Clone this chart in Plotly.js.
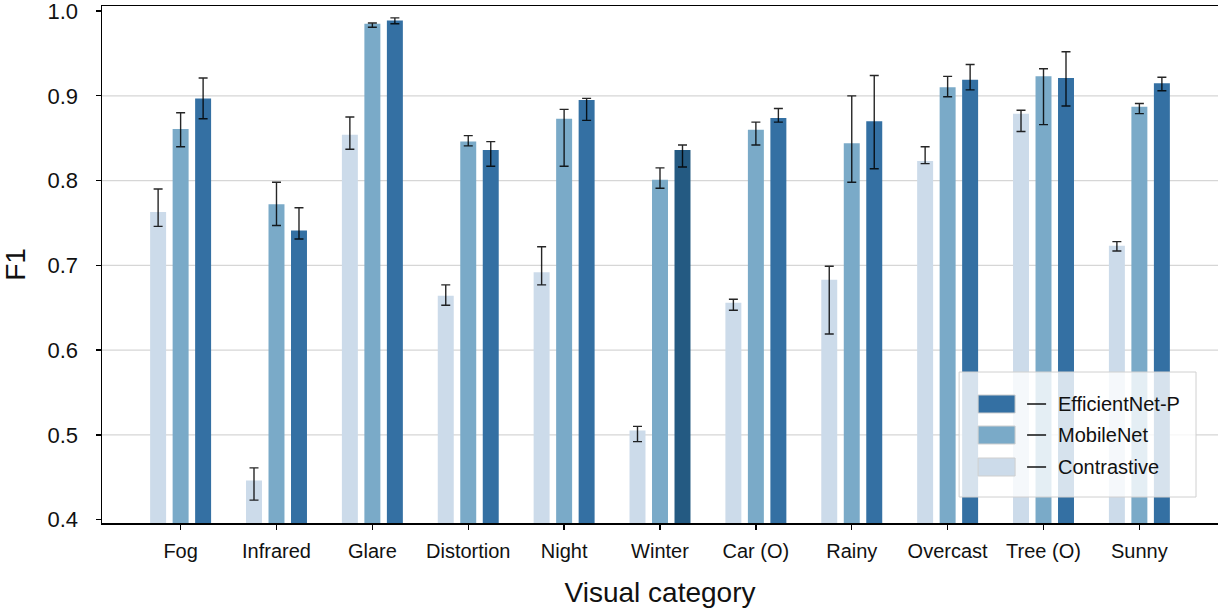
<!DOCTYPE html>
<html>
<head>
<meta charset="utf-8">
<script src="https://cdn.plot.ly/plotly-3.0.1.min.js"></script>
<style>html,body{margin:0;padding:0;background:#fff}#chart{width:1218px;height:613px}</style>
</head>
<body>
<div id="chart"></div>
<script>
// ---- data ----
const categories = ["Fog","Infrared","Glare","Distortion","Night","Winter","Car (O)","Rainy","Overcast","Tree (O)","Sunny"];

const contrastive   = [0.763,0.446,0.854,0.664,0.692,0.505,0.656,0.683,0.823,0.879,0.723];
const contrastiveHi = [0.790,0.461,0.875,0.677,0.722,0.510,0.660,0.699,0.840,0.883,0.728];
const contrastiveLo = [0.746,0.423,0.837,0.653,0.677,0.492,0.647,0.619,0.820,0.858,0.717];

const mobilenet   = [0.861,0.772,0.985,0.846,0.873,0.801,0.860,0.844,0.910,0.923,0.887];
const mobilenetHi = [0.880,0.798,0.986,0.853,0.884,0.815,0.869,0.900,0.923,0.932,0.891];
const mobilenetLo = [0.840,0.747,0.981,0.841,0.817,0.791,0.842,0.798,0.899,0.866,0.879];

const efficientnet   = [0.897,0.741,0.989,0.836,0.895,0.836,0.874,0.870,0.919,0.921,0.915];
const efficientnetHi = [0.921,0.768,0.992,0.846,0.897,0.842,0.885,0.924,0.937,0.952,0.922];
const efficientnetLo = [0.873,0.731,0.985,0.817,0.871,0.816,0.869,0.814,0.907,0.888,0.906];

const yTicks = [0.4,0.5,0.6,0.7,0.8,0.9,1.0];
const yGrid  = [0.5,0.6,0.7,0.8,0.9];

// ---- styling ----
const FONT = "Liberation Sans, Arial, Helvetica, sans-serif";
const C_CON = "#ccdbea", C_MOB = "#7aaac8", C_EFF = "#3470a3", C_EFF_DARK = "#245a82";
const effColors = categories.map(c => c === "Winter" ? C_EFF_DARK : C_EFF);

function err(vals, hi, lo) {
  return {
    type: "data", symmetric: false,
    array: vals.map((v, i) => +(hi[i] - v).toFixed(4)),
    arrayminus: vals.map((v, i) => +(v - lo[i]).toFixed(4)),
    color: "rgba(0,0,0,0.85)", thickness: 1.4, width: 4.5
  };
}

const traces = [
  {type:"bar", name:"Contrastive", x:categories, y:contrastive, marker:{color:C_CON}, error_y:err(contrastive, contrastiveHi, contrastiveLo)},
  {type:"bar", name:"MobileNet", x:categories, y:mobilenet, marker:{color:C_MOB}, error_y:err(mobilenet, mobilenetHi, mobilenetLo)},
  {type:"bar", name:"EfficientNet-P", x:categories, y:efficientnet, marker:{color:effColors}, error_y:err(efficientnet, efficientnetHi, efficientnetLo)}
];

// plot area in pixels
const W = 1218, H = 613;
const L = 101.5, R = 0, T = 6, B = 90;
const pw = W - L - R, ph = H - T - B;
const px = x => (x - L) / pw;
const py = y => (H - B - y) / ph;

// horizontal grid lines (library-positioned in data coords)
const shapes = yGrid.map(v => ({type:"line", xref:"paper", yref:"y", x0:0, x1:1, y0:v, y1:v,
  line:{color:"#d6d6d6", width:1.2}, layer:"below"}));

// custom legend (patch, dash, label)
const legendItems = [
  {name:"EfficientNet-P", color:C_EFF, yc:404},
  {name:"MobileNet", color:C_MOB, yc:435},
  {name:"Contrastive", color:C_CON, yc:467}
];
shapes.push({type:"rect", xref:"paper", yref:"paper", x0:px(959), x1:px(1196), y0:py(497), y1:py(372),
   fillcolor:"rgba(255,255,255,0.8)", line:{color:"#d0d0d0", width:1}, layer:"above"});
const annotations = [];
legendItems.forEach(it => {
  shapes.push({type:"rect", xref:"paper", yref:"paper", x0:px(978), x1:px(1015), y0:py(it.yc+9), y1:py(it.yc-9),
    fillcolor:it.color, line:{color:"#cfcfcf", width:1}, layer:"above"});
  shapes.push({type:"line", xref:"paper", yref:"paper", x0:px(1027), x1:px(1046), y0:py(it.yc), y1:py(it.yc),
    line:{color:"#000", width:1.4}, layer:"above"});
  annotations.push({xref:"paper", yref:"paper", x:px(1056), y:py(it.yc), xanchor:"left", yanchor:"middle",
    text:it.name, showarrow:false, font:{family:FONT, size:20, color:"#111"}});
});

const layout = {
  width: W, height: H,
  margin: {l:L, r:R, t:T, b:B, pad:0},
  paper_bgcolor: "#fff", plot_bgcolor: "#fff",
  barmode: "group", bargap: 0.296, bargroupgap: 0.29,
  showlegend: false,
  font: {family: FONT, size: 20, color: "#111"},
  xaxis: {
    type:"category", range:[-0.82, 10.82],
    showline:true, mirror:true, linecolor:"#000", linewidth:1.5,
    ticks:"outside", ticklen:5, tickwidth:1.3, tickcolor:"#000",
    showgrid:false, zeroline:false, ticklabelstandoff:4,
    tickfont:{family:FONT, size:20, color:"#111"},
    title:{text:"Visual category", font:{family:FONT, size:28, color:"#111"}, standoff:22}
  },
  yaxis: {
    range:[0.396, 1.006], tickvals:yTicks, ticktext:yTicks.map(v => v.toFixed(1)),
    showline:true, linecolor:"#000", linewidth:1.5,
    ticks:"outside", ticklen:5, tickwidth:1.3, tickcolor:"#000",
    showgrid:false, zeroline:false, ticklabelstandoff:13,
    ticklabeloverflow:"allow",
    tickfont:{family:FONT, size:22, color:"#111"},
    title:{text:"F1", font:{family:FONT, size:28, color:"#111"}, standoff:18}
  },
  shapes: shapes,
  annotations: annotations
};

Plotly.newPlot("chart", traces, layout, {staticPlot:true, displayModeBar:false});
</script>
</body>
</html>
